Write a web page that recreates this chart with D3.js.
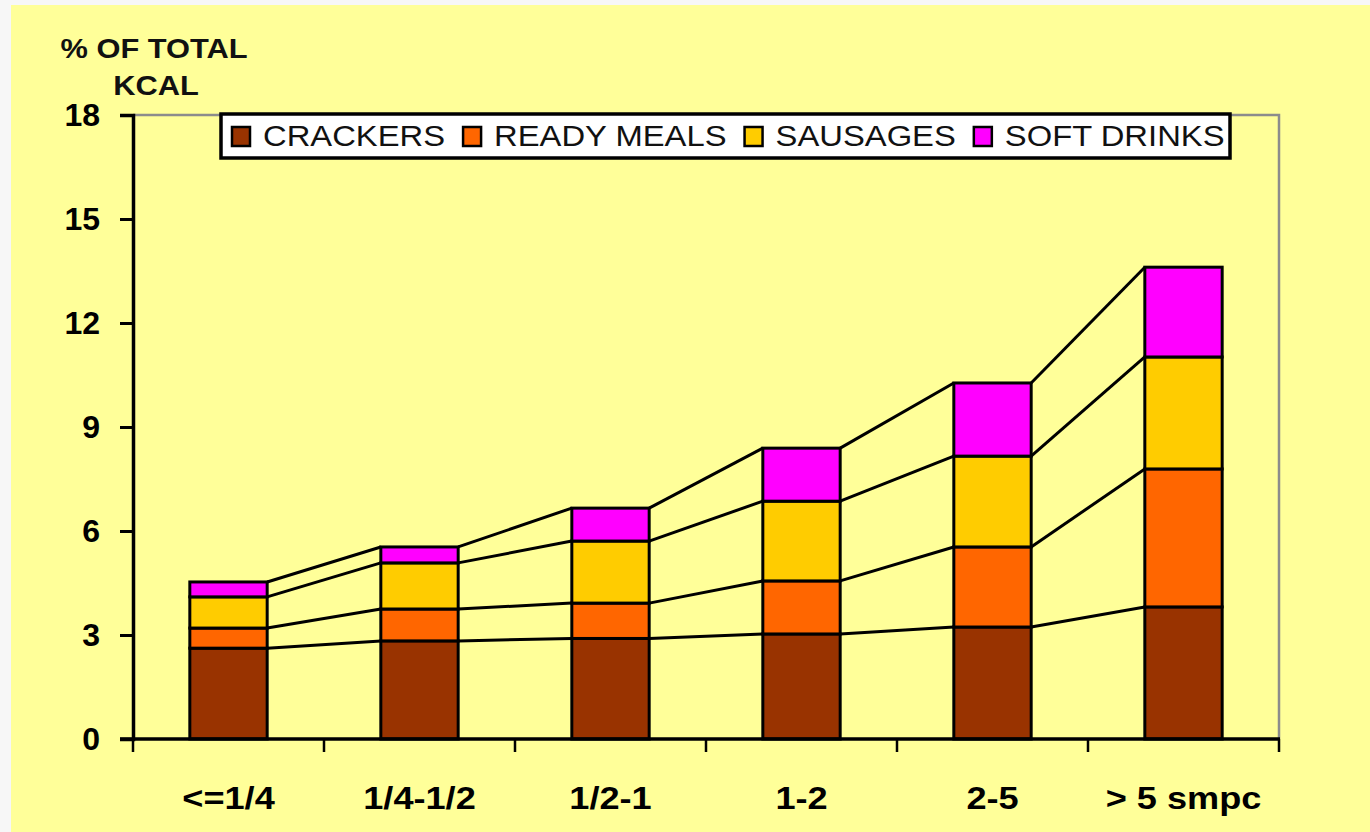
<!DOCTYPE html>
<html>
<head>
<meta charset="utf-8">
<script src="https://cdn.jsdelivr.net/npm/d3@7"></script>
<style>
  body { margin: 0; background: #f7f7f7; }
  svg { display: block; }
</style>
</head>
<body>
<div id="chart"></div>
<script>
/*
 * Data
 */
const categories = ['<=1/4', '1/4-1/2', '1/2-1', '1-2', '2-5', '> 5 smpc']
const seriesNames = ['CRACKERS', 'READY MEALS', 'SAUSAGES', 'SOFT DRINKS']
const crackers = [2.62, 2.83, 2.90, 3.03, 3.23, 3.81]
const readyMeals = [0.58, 0.92, 1.02, 1.53, 2.31, 3.98]
const sausages = [0.90, 1.33, 1.79, 2.30, 2.62, 3.23]
const softDrinks = [0.43, 0.46, 0.95, 1.53, 2.11, 2.59]
const yTicks = [0, 3, 6, 9, 12, 15, 18]

const colors = ['#993300', '#ff6600', '#ffcc00', '#ff00ff']

const w = 1370
const h = 832
const stretch = 1.13

const svg = d3.select('#chart')
  .append('svg')
  .attr('width', w)
  .attr('height', h)

// yellow panel
svg.append('rect')
  .attr('x', 11)
  .attr('y', 5)
  .attr('width', w - 11)
  .attr('height', h - 5)
  .style('fill', '#ffff99')

const x = d3.scaleBand()
  .domain(categories)
  .range([133, 1279])

const y = d3.scaleLinear()
  .domain([0, 18])
  .range([739, 115])

const barW = x.bandwidth() * 0.405

// build stacked table
const table = categories.map((c, i) => ({
  cat: c,
  'CRACKERS': crackers[i],
  'READY MEALS': readyMeals[i],
  'SAUSAGES': sausages[i],
  'SOFT DRINKS': softDrinks[i]
}))
const stacked = d3.stack().keys(seriesNames)(table)

// gray plot frame (top + right)
svg.append('path')
  .attr('d', `M133,${y(18)}H1279V${y(0)}`)
  .style('fill', 'none')
  .style('stroke', '#8c8c8c')
  .style('stroke-width', 2.5)

/*
 * Connector lines between bars
 */
const connectors = svg.append('g')
stacked.forEach(layer => {
  for (let i = 0; i < layer.length - 1; i++) {
    const x1 = x(categories[i]) + x.bandwidth() / 2 + barW / 2
    const x2 = x(categories[i + 1]) + x.bandwidth() / 2 - barW / 2
    connectors.append('line')
      .attr('x1', x1)
      .attr('y1', y(layer[i][1]))
      .attr('x2', x2)
      .attr('y2', y(layer[i + 1][1]))
      .style('stroke', '#000')
      .style('stroke-width', 3)
  }
})

/*
 * Bars
 */
svg.append('g')
  .selectAll('g')
  .data(stacked)
  .enter()
  .append('g')
  .style('fill', (d, i) => colors[i])
  .selectAll('rect')
  .data(d => d)
  .enter()
  .append('rect')
  .attr('x', d => x(d.data.cat) + x.bandwidth() / 2 - barW / 2)
  .attr('y', d => y(d[1]))
  .attr('width', barW)
  .attr('height', d => y(d[0]) - y(d[1]))
  .style('stroke', '#000')
  .style('stroke-width', 3)

/*
 * Axes
 */
const yAxis = svg.append('g')
  .attr('transform', 'translate(133,0)')
  .call(d3.axisLeft(y).tickValues(yTicks).tickSize(13).tickPadding(20))
yAxis.select('.domain').style('stroke', '#000').style('stroke-width', 3.5)
yAxis.selectAll('.tick line').style('stroke', '#000').style('stroke-width', 3)
yAxis.selectAll('.tick text')
  .style('font-family', 'Liberation Sans, Arial, sans-serif')
  .style('font-weight', 'bold')
  .style('font-size', '32px')
  .style('fill', '#000')

svg.append('line')
  .attr('x1', 120).attr('x2', 1280)
  .attr('y1', y(0)).attr('y2', y(0))
  .style('stroke', '#000')
  .style('stroke-width', 3.5)

// ticks at band boundaries
const bounds = categories.map(c => x(c)).concat([x.range()[1]])
svg.append('g')
  .selectAll('line')
  .data(bounds)
  .enter()
  .append('line')
  .attr('x1', d => d).attr('x2', d => d)
  .attr('y1', y(0)).attr('y2', y(0) + 13)
  .style('stroke', '#000')
  .style('stroke-width', 2.5)

// category labels
svg.append('g')
  .selectAll('text')
  .data(categories)
  .enter()
  .append('text')
  .attr('transform', d => `translate(${x(d) + x.bandwidth() / 2},809) scale(${stretch},1)`)
  .attr('text-anchor', 'middle')
  .style('font-family', 'Liberation Sans, Arial, sans-serif')
  .style('font-weight', 'bold')
  .style('font-size', '32px')
  .text(d => d)

// axis title
svg.append('text')
  .attr('transform', `translate(154,58) scale(1.1,1)`)
  .attr('text-anchor', 'middle')
  .style('font-family', 'Liberation Sans, Arial, sans-serif')
  .style('font-weight', 'bold')
  .style('font-size', '28px')
  .style('fill', '#111')
  .text('% OF TOTAL')
svg.append('text')
  .attr('transform', `translate(156,95) scale(1.1,1)`)
  .attr('text-anchor', 'middle')
  .style('font-family', 'Liberation Sans, Arial, sans-serif')
  .style('font-weight', 'bold')
  .style('font-size', '28px')
  .style('fill', '#111')
  .text('KCAL')

/*
 * Legend
 */
const legend = svg.append('g')
legend.append('rect')
  .attr('x', 221)
  .attr('y', 114)
  .attr('width', 1009)
  .attr('height', 44)
  .style('fill', '#fff')
  .style('stroke', '#000')
  .style('stroke-width', 3.5)

let lx = 232
seriesNames.forEach((name, i) => {
  legend.append('rect')
    .attr('x', lx)
    .attr('y', 127)
    .attr('width', 18)
    .attr('height', 19)
    .style('fill', colors[i])
    .style('stroke', '#000')
    .style('stroke-width', 2.5)
  const t = legend.append('text')
    .attr('transform', `translate(${lx + 31},146) scale(${stretch},1)`)
    .style('font-family', 'Liberation Sans, Arial, sans-serif')
    .style('font-size', '29px')
    .style('fill', '#111')
    .text(name)
  const tw = t.node().getComputedTextLength() * stretch
  lx = lx + 31 + tw + 18
})
</script>
</body>
</html>
